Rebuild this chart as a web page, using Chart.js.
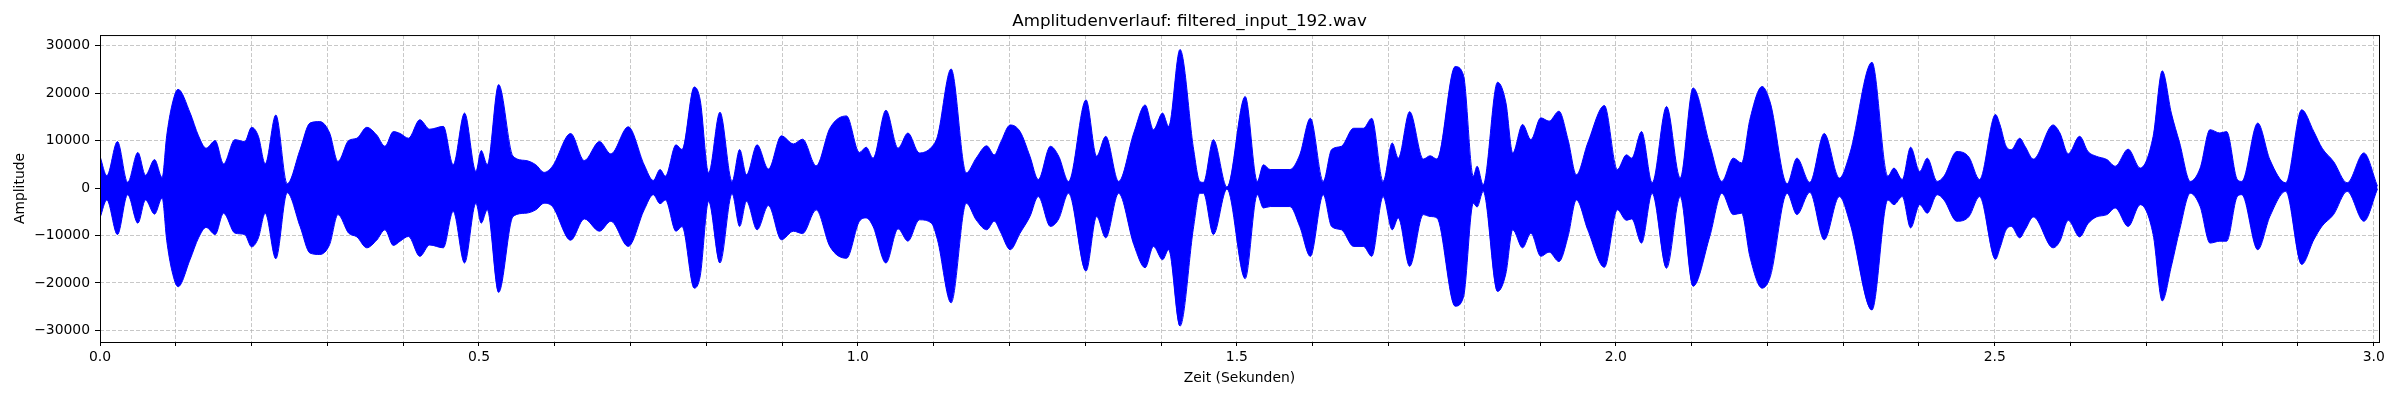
<!DOCTYPE html>
<html><head><meta charset="utf-8">
<script src="https://cdn.jsdelivr.net/npm/chart.js@4.4.1/dist/chart.umd.min.js"></script>
<style>html,body{margin:0;padding:0;background:#fff;overflow:hidden}canvas{display:block}</style>
</head><body>
<canvas id="c" width="2400" height="400" style="width:2400px;height:400px"></canvas>
<script>
const chartTitle = 'Amplitudenverlauf: filtered_input_192.wav';
const xAxisTitle = 'Zeit (Sekunden)';
const yAxisTitle = 'Amplitude';

const timeSec = [
0.000,0.009,0.023,0.0365,0.050,0.060,0.072,0.082,0.088,0.095,0.103,0.119,0.130,0.140,0.152,0.163,0.178,0.191,0.200,0.209,
0.218,0.232,0.247,0.264,0.277,0.290,0.303,0.314,0.328,0.339,0.352,0.365,0.376,0.387,0.396,0.407,0.422,0.435,0.453,0.466,
0.481,0.496,0.503,0.511,0.526,0.545,0.562,0.575,0.586,0.597,0.621,0.639,0.659,0.674,0.697,0.718,0.730,0.739,0.746,0.760,
0.768,0.784,0.792,0.803,0.818,0.834,0.844,0.853,0.867,0.882,0.899,0.915,0.927,0.945,0.963,0.985,1.002,1.011,1.020,1.037,
1.053,1.066,1.081,1.097,1.105,1.123,1.143,1.156,1.170,1.180,1.188,1.201,1.214,1.227,1.238,1.254,1.265,1.278,1.301,1.315,
1.327,1.344,1.364,1.379,1.390,1.402,1.410,1.425,1.443,1.451,1.456,1.469,1.487,1.511,1.527,1.535,1.544,1.570,1.583,1.597,
1.614,1.625,1.638,1.654,1.667,1.678,1.693,1.705,1.713,1.728,1.746,1.755,1.764,1.788,1.799,1.812,1.817,1.825,1.844,1.855,
1.864,1.877,1.888,1.901,1.912,1.925,1.937,1.948,1.963,1.985,2.002,2.014,2.021,2.034,2.048,2.067,2.085,2.102,2.124,2.140,
2.155,2.166,2.177,2.193,2.204,2.226,2.239,2.256,2.275,2.295,2.309,2.338,2.359,2.367,2.378,2.389,2.401,2.411,2.424,2.433,
2.450,2.466,2.480,2.501,2.507,2.515,2.522,2.533,2.540,2.551,2.577,2.586,2.597,2.612,2.623,2.634,2.648,2.659,2.676,2.692,
2.709,2.721,2.733,2.744,2.758,2.771,2.784,2.797,2.806,2.820,2.826,2.847,2.863,2.884,2.905,2.921,2.932,2.947,2.965,2.987,
3.005
];
const upperEnv = [
6700,2600,9800,1200,7500,2700,6000,2200,11000,17500,20800,15800,11000,8400,10000,5100,10200,9800,12800,10900,
5100,15400,900,8100,13700,14000,11600,5600,10000,10500,12800,11200,8800,11900,11500,10500,14400,12400,13000,4900,
15800,3500,7900,4900,21800,6700,5800,4900,3300,4600,11500,5800,9800,7200,12900,4900,1600,3900,2500,9100,
8100,21300,18500,3200,16000,1400,8100,2800,9100,4000,11000,9300,10300,4700,12600,15200,7500,8600,6300,16400,
8400,11600,7400,8600,10900,25100,3200,6300,8900,7000,9500,13300,11900,6700,1800,8800,6700,1400,18600,6700,
10900,1400,11600,17500,12300,15800,13000,29200,8100,1400,1200,10200,200,19300,1400,4900,3900,3900,7000,14700,
1400,8100,8800,12600,12600,14700,1400,9500,6300,16100,6100,6800,6100,25600,23800,2500,4600,700,22300,18000,
7400,13400,10200,14800,14100,16200,10200,2800,9500,17400,3900,7000,6300,11900,1100,17200,2100,21100,9100,1400,
6300,5300,14500,21400,17900,900,6300,1200,11500,2100,7400,26500,2500,4200,1800,8600,3500,6300,1400,2500,
7700,6500,1800,15500,13300,8800,8100,10500,8800,6100,13300,11600,7200,10900,7700,6700,6000,4600,8200,4200,
10900,24700,15800,9500,1400,4200,12300,11600,11900,1800,1400,13700,6000,1100,16500,11900,8400,5600,1100,7400,
400
];
const lowerEnv = [
-6300,-2500,-9800,-1400,-7400,-2500,-5500,-2100,-11000,-17500,-20800,-15000,-10500,-8300,-9800,-5300,-9500,-9800,-12400,-10500,
-5300,-14900,-1000,-8100,-13700,-14000,-11900,-5600,-9500,-10300,-12600,-11000,-8800,-12100,-11200,-10200,-14400,-12000,-12600,-4900,
-15800,-3200,-7400,-4600,-22000,-6000,-5300,-4600,-3200,-3900,-11000,-6500,-9100,-7000,-12300,-4600,-1400,-3300,-2500,-9100,
-8100,-21100,-18500,-2800,-15800,-1200,-8100,-2800,-8800,-3700,-10900,-9100,-9600,-4600,-12300,-14800,-7000,-6300,-8100,-15800,
-8600,-11200,-6700,-7400,-10900,-24200,-3200,-6700,-8800,-7000,-9200,-13000,-9500,-6000,-1800,-8100,-6500,-1100,-17500,-6000,
-10500,-1100,-11900,-16800,-12300,-15100,-13000,-29100,-8100,-1100,-1100,-9800,-200,-19100,-1400,-4200,-3900,-3900,-8100,-14400,
-1400,-8100,-8800,-12300,-12300,-14400,-1800,-8800,-6300,-16500,-5600,-6000,-6300,-24900,-23000,-3200,-4000,-700,-21800,-18000,
-8800,-12600,-9500,-14400,-13500,-15500,-10200,-2500,-8800,-16700,-4600,-6800,-6500,-11600,-1100,-16900,-1800,-20700,-10200,-1100,
-5600,-5300,-14500,-21100,-18600,-1100,-5600,-900,-10900,-1800,-7400,-25700,-2500,-3500,-1800,-8400,-3500,-5300,-1400,-2500,
-7000,-6000,-1800,-15000,-12600,-8800,-8100,-10500,-8800,-6100,-12600,-11200,-6800,-10300,-7500,-6100,-5600,-4200,-8100,-3500,
-9800,-23800,-16500,-8800,-1100,-3900,-11600,-11200,-11200,-1800,-1400,-13000,-6000,-700,-16100,-10900,-8000,-5600,-700,-7000,
-200
];

const xRange = [0, 3.007];
const yRange = [-32450, 32250];
const xGridStep = 0.1;
const xMajorTicks = [0, 0.5, 1.0, 1.5, 2.0, 2.5, 3.0];
const xMajorLabels = ['0.0', '0.5', '1.0', '1.5', '2.0', '2.5', '3.0'];
const yTicks = [-30000, -20000, -10000, 0, 10000, 20000, 30000];
const yTickLabels = ['\u221230000', '\u221220000', '\u221210000', '0', '10000', '20000', '30000'];

const FONT = 'DejaVu Sans';
Chart.defaults.font.family = FONT;
Chart.defaults.color = '#000';

const framePlugin = {
  id: 'frame',
  afterDraw(chart) {
    const {ctx, chartArea: a} = chart;
    ctx.save();
    ctx.strokeStyle = '#000';
    ctx.lineWidth = 1;
    ctx.strokeRect(a.left + 0.5, a.top + 0.5, a.right - a.left, a.bottom - a.top);
    ctx.restore();
  }
};

const gridColor = 'rgba(176,176,176,0.7)';

new Chart(document.getElementById('c'), {
  type: 'line',
  data: {
    datasets: [
      {
        data: timeSec.map((t, i) => ({x: t, y: upperEnv[i]})),
        borderColor: '#0000ff',
        backgroundColor: '#0000ff',
        borderWidth: 1,
        pointRadius: 0,
        cubicInterpolationMode: 'monotone',
        fill: '+1'
      },
      {
        data: timeSec.map((t, i) => ({x: t, y: lowerEnv[i]})),
        borderColor: '#0000ff',
        backgroundColor: '#0000ff',
        borderWidth: 1,
        pointRadius: 0,
        cubicInterpolationMode: 'monotone',
        fill: false
      }
    ]
  },
  options: {
    responsive: false,
    animation: false,
    devicePixelRatio: 1,
    events: [],
    layout: {padding: {left: 0, right: 21, top: 0, bottom: 0}},
    plugins: {
      legend: {display: false},
      tooltip: {enabled: false},
      title: {
        display: true,
        text: chartTitle,
        color: '#000',
        font: {family: FONT, size: 16.7, weight: 'normal', lineHeight: 1.2},
        padding: {top: 11.7, bottom: 3.3}
      }
    },
    scales: {
      x: {
        type: 'linear',
        min: xRange[0],
        max: xRange[1],
        afterFit(s) { s.height = 58; },
        afterBuildTicks(s) {
          const t = [];
          for (let k = 0; k * xGridStep <= xRange[1] + 1e-9; k++) t.push({value: Math.round(k * xGridStep * 10) / 10});
          s.ticks = t;
        },
        ticks: {
          autoSkip: false,
          maxRotation: 0,
          minRotation: 0,
          padding: 2.7,
          font: {family: FONT, size: 13.9},
          color: '#000',
          callback(v) {
            const i = xMajorTicks.findIndex(m => Math.abs(m - v) < 1e-6);
            return i >= 0 ? xMajorLabels[i] : '';
          }
        },
        grid: {
          color: gridColor,
          lineWidth: 1,
          drawTicks: true,
          tickLength: 4,
          tickColor: '#000',
          tickWidth: 1
        },
        border: {display: false, dash: [4, 2]},
        title: {
          display: true,
          text: xAxisTitle,
          color: '#000',
          font: {family: FONT, size: 13.9, lineHeight: 1.2},
          padding: {top: 0, bottom: 13.7}
        }
      },
      y: {
        type: 'linear',
        min: yRange[0],
        max: yRange[1],
        afterFit(s) { s.width = 100; },
        afterBuildTicks(s) { s.ticks = yTicks.map(v => ({value: v})); },
        ticks: {
          autoSkip: false,
          padding: 5,
          font: {family: FONT, size: 13.9},
          color: '#000',
          callback(v) {
            const i = yTicks.indexOf(v);
            return i >= 0 ? yTickLabels[i] : '';
          }
        },
        grid: {
          color: gridColor,
          lineWidth: 1,
          drawTicks: true,
          tickLength: 5,
          tickColor: '#000',
          tickWidth: 1
        },
        border: {display: false, dash: [4, 2]},
        title: {
          display: true,
          text: yAxisTitle,
          color: '#000',
          font: {family: FONT, size: 13.9, lineHeight: 1.2},
          padding: {top: 12.3, bottom: 0}
        }
      }
    }
  },
  plugins: [framePlugin]
});
</script>
</body></html>
